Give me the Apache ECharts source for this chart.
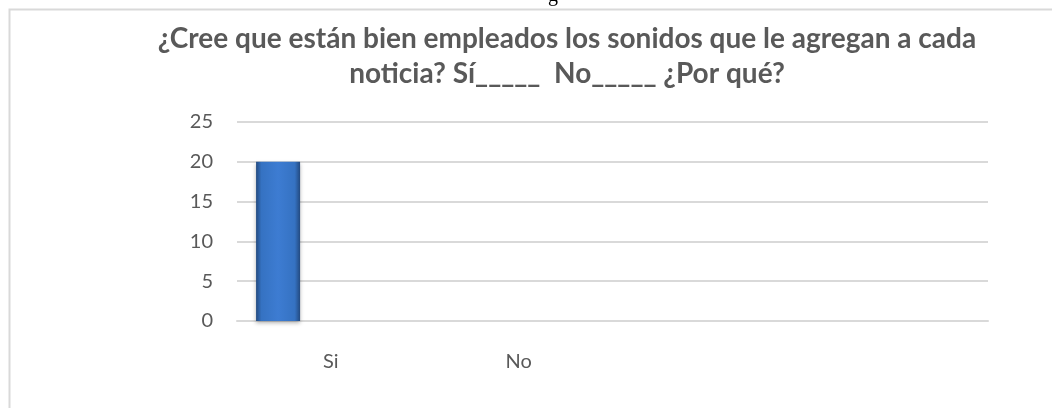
<!DOCTYPE html>
<html>
<head>
<meta charset="utf-8">
<script src="https://cdn.jsdelivr.net/npm/echarts@6/dist/echarts.min.js"></script>
<style>
  html, body { margin: 0; padding: 0; background: #fff; }
  #chart { width: 1052px; height: 408px; }
</style>
</head>
<body>
<div id="chart"></div>
<script>
var categories = ['Si', 'No', '', '']
var serieSi = [20, 0, 0, 0]
var serieNo = [0, 0, 0, 0]
var seriePorQue = [0, 0, 0, 0]
var yTicks = { min: 0, max: 25, interval: 5 }
var chartTitle = '¿Cree que están bien empleados los sonidos que le agregan a cada\nnoticia? Sí_____  No_____ ¿Por qué?'

var font = 'Lato, "Open Sans", sans-serif'
var barColor = new echarts.graphic.LinearGradient(0, 0, 1, 0, [
  { offset: 0, color: '#234a80' },
  { offset: 0.12, color: '#3572c2' },
  { offset: 0.5, color: '#3d7cd2' },
  { offset: 0.88, color: '#3572c2' },
  { offset: 1, color: '#234a80' }
])

// zero bars are not drawn in the original, so leave them empty
function barSeries (name, values) {
  return {
    name: name,
    type: 'bar',
    data: values.map(function (v) { return v === 0 ? '-' : v }),
    barWidth: 44,
    barGap: '20%',
    itemStyle: {
      color: barColor,
      shadowBlur: 4,
      shadowOffsetY: 2,
      shadowColor: 'rgba(0,0,0,0.3)'
    }
  }
}

var chart = echarts.init(document.getElementById('chart'))
chart.setOption({
  animation: false,
  title: {
    text: chartTitle,
    left: 562,
    top: 16,
    textAlign: 'center',
    textStyle: { fontFamily: font, fontSize: 28, fontWeight: 'bold', color: '#595959', lineHeight: 35 }
  },
  graphic: [
    { type: 'rect', left: 7, top: 7, shape: { width: 1100, height: 500 }, style: { fill: 'none', stroke: '#d9d9d9', lineWidth: 2 }, silent: true },
    { type: 'text', left: 548, top: -14, style: { text: 'g', font: '20px "Liberation Serif", serif', fill: '#000' }, silent: true }
  ],
  grid: { left: 237, right: 64, top: 122, bottom: 87 },
  xAxis: {
    type: 'category',
    data: categories,
    axisLine: { lineStyle: { color: '#d9d9d9', width: 2 } },
    axisTick: { show: false },
    axisLabel: { margin: 31, fontFamily: font, fontSize: 20, color: '#595959' }
  },
  yAxis: {
    type: 'value',
    min: yTicks.min,
    max: yTicks.max,
    interval: yTicks.interval,
    axisLine: { show: false },
    axisTick: { show: false },
    axisLabel: { margin: 24, fontFamily: font, fontSize: 20, color: '#595959' },
    splitLine: { lineStyle: { color: '#d9d9d9', width: 2 } }
  },
  series: [
    barSeries('Si', serieSi),
    barSeries('No', serieNo),
    barSeries('¿Por qué?', seriePorQue)
  ]
})
</script>
</body>
</html>
